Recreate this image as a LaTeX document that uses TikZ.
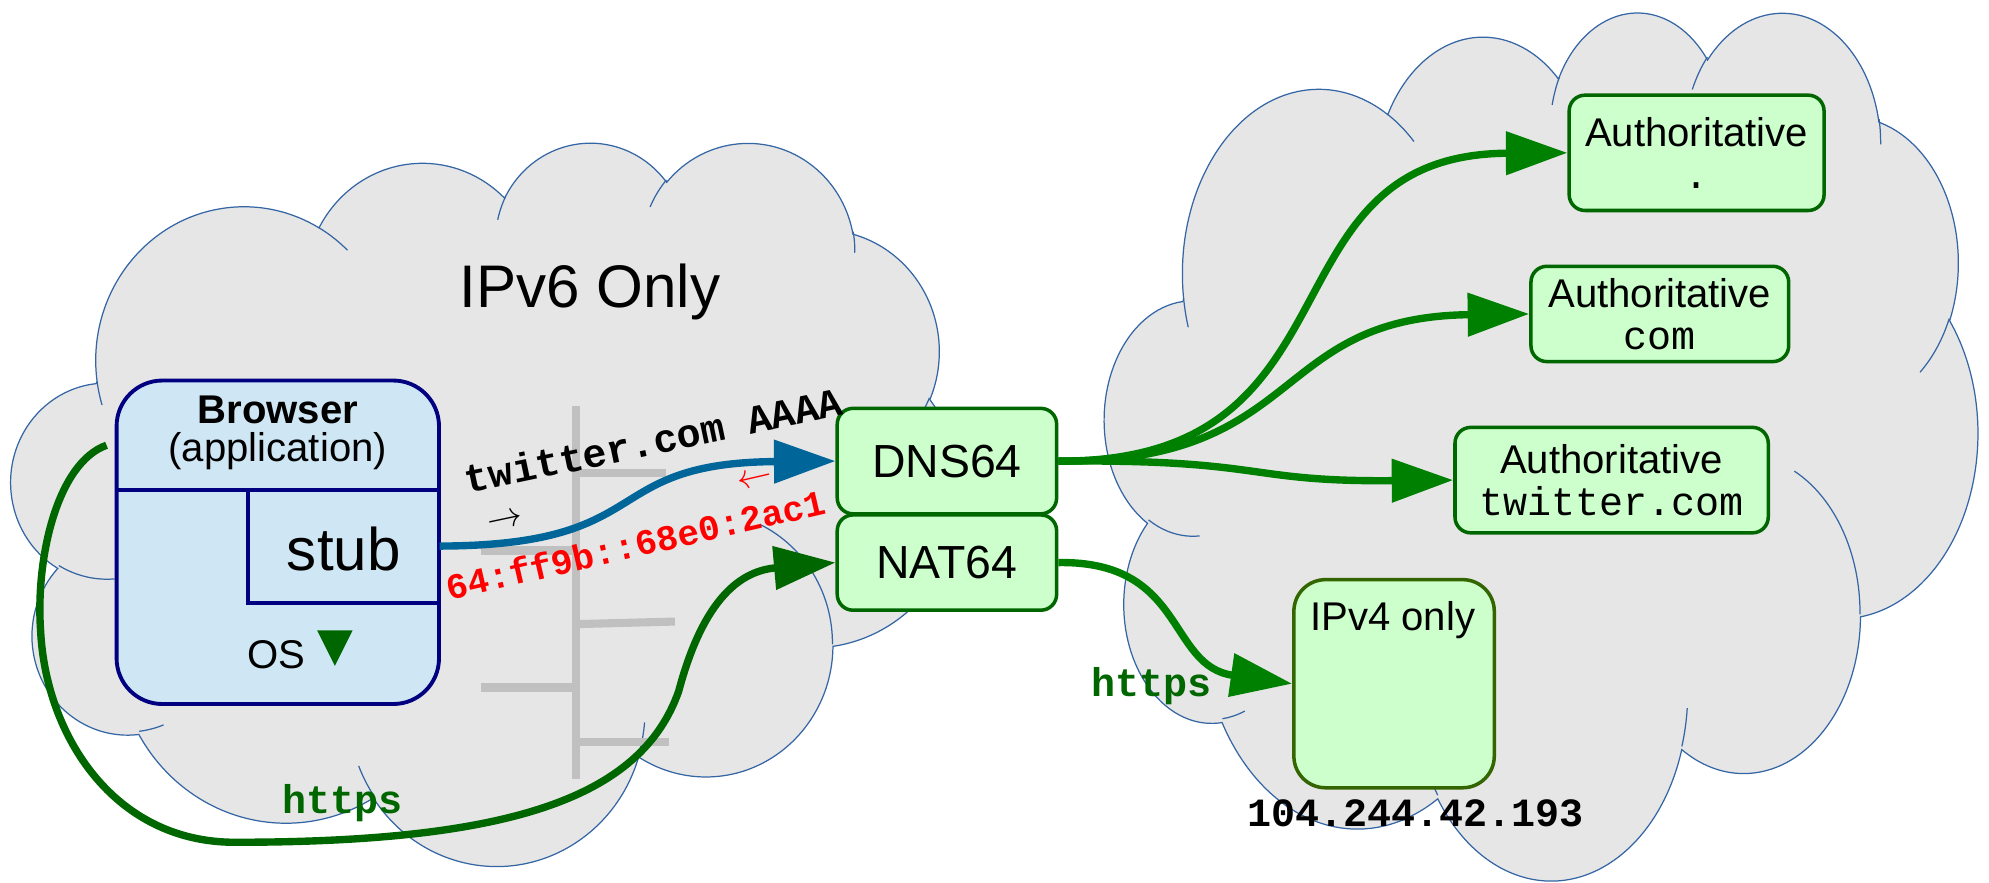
\documentclass[tikz,border=0pt]{standalone}
\usepackage{fontspec}
\setmainfont{Liberation Sans}
\setmonofont{Liberation Mono}
\usepackage{tikz}
\usetikzlibrary{arrows.meta}

\definecolor{cloudgray}{HTML}{E6E6E6}
\definecolor{cloudblue}{HTML}{3465A4}
\definecolor{busgray}{HTML}{C0C0C0}
\definecolor{appfill}{HTML}{CFE7F5}
\definecolor{appnavy}{HTML}{000080}
\definecolor{boxfill}{HTML}{CCFFCC}
\definecolor{boxgreen}{HTML}{006600}
\definecolor{v4green}{HTML}{336600}
\definecolor{flowgreen}{HTML}{008000}
\definecolor{queryblue}{HTML}{006699}

% outline of one cloud, in a 432 x 432 frame
\newcommand{\cloudpath}{(39.00,143.70)
  arc[x radius=67.53,y radius=91.90,start angle=172.25,end angle=300.37]
  arc[x radius=53.33,y radius=72.67,start angle=-152.02,end angle=-45.45]
  arc[x radius=43.65,y radius=59.45,start angle=-153.47,end angle=-37.32]
  arc[x radius=48.57,y radius=65.95,start angle=-139.69,end angle=-10.21]
  arc[x radius=53.33,y radius=72.73,start angle=-74.77,end angle=23.21]
  arc[x radius=67.75,y radius=92.20,start angle=-37.53,end angle=81.86]
  arc[x radius=57.85,y radius=78.67,start angle=0.46,end angle=121.97]
  arc[x radius=67.52,y radius=92.15,start angle=16.84,end angle=146.25]
  arc[x radius=77.20,y radius=105.43,start angle=58.98,end angle=150.20]
  arc[x radius=43.60,y radius=59.18,start angle=83.31,end angle=223.11]
  arc[x radius=43.45,y radius=59.45,start angle=120.36,end angle=264.11]
  -- cycle}
% small inner curls of the cloud
\newcommand{\cloudcurls}{(46.93,261.77) arc[x radius=43.45,y radius=59.45,start angle=85.55,end angle=120.36]
  (69.28,348.99) arc[x radius=43.60,y radius=59.18,start angle=68.23,end angle=83.31]
  (164.78,390.90) arc[x radius=67.52,y radius=92.15,start angle=146.25,end angle=158.47]
  (288.27,347.51) arc[x radius=67.52,y radius=92.15,start angle=4.74,end angle=16.84]
  (341.29,229.54) arc[x radius=57.85,y radius=78.67,start angle=-64.03,end angle=0.46]
  (417.98,153.54) arc[x radius=53.33,y radius=72.73,start angle=23.21,end angle=49.64]
  (383.24,54.26) arc[x radius=48.57,y radius=65.95,start angle=-10.21,end angle=0.82]
  (290.78,39.52) arc[x radius=48.57,y radius=65.95,start angle=-156.29,end angle=-139.69]
  (221.41,47.20) arc[x radius=43.65,y radius=59.45,start angle=-167.73,end angle=-153.47]
  (140.00,51.92) arc[x radius=67.53,y radius=91.90,start angle=-59.63,end angle=-45.73]
  (41.27,157.89) arc[x radius=67.53,y radius=91.90,start angle=163.19,end angle=172.25]}

\begin{document}
\begin{tikzpicture}[x=0.012685cm, y=-0.012685cm]
    \tikzstyle{every node}+=[inner sep=0pt]
    \tikzstyle{puffs}=[fill=cloudgray, draw=cloudblue, line width=0.35pt]
    \tikzstyle{curls}=[draw=cloudblue, line width=0.35pt]
    \tikzstyle{bus}=[draw=busgray, line width=2.3pt]
    \tikzstyle{appbox}=[draw=appnavy, fill=appfill, line width=1.1pt, rounded corners=13pt]
    \tikzstyle{appline}=[draw=appnavy, line width=1.1pt]
    \tikzstyle{gatebox}=[draw=boxgreen, fill=boxfill, line width=1pt, rounded corners=4.5pt, minimum width=62.4pt, font=\fontsize{13.2}{15}\selectfont]
    \tikzstyle{authbox}=[draw=boxgreen, fill=boxfill, line width=1pt, rounded corners=4.5pt, align=center, font=\fontsize{11.4}{11.8}\selectfont]
    \tikzstyle{v4box}=[draw=v4green, fill=boxfill, line width=1pt, rounded corners=9pt]
    \tikzstyle{sans}=[font=\fontsize{11.4}{13}\selectfont]
    \tikzstyle{mono}=[font=\ttfamily\bfseries\fontsize{11.4}{13}\selectfont]
    \tikzstyle{flow}=[line width=2.1pt, -{Triangle[length=17.5pt,width=12pt]}]

    \useasboundingbox (0,0) rectangle (1568,696);

    % IPv6 cloud
    \begin{scope}[shift={(9,111)}, xscale=1.7315, yscale=1.3194]
        \filldraw[puffs] \cloudpath;
        \draw[curls] \cloudcurls;
    \end{scope}
    % IPv4 cloud
    \begin{scope}[shift={(871,8)}, xscale=1.5926, yscale=1.5833]
        \filldraw[puffs] \cloudpath;
        \draw[curls] \cloudcurls;
    \end{scope}
    \node[font=\fontsize{17.1}{20}\selectfont] (v6name) at (465,230) {IPv6 Only};

    % local network
    \draw[bus] (454,320) -- (454,614);
    \draw[bus] (454,373) -- (525,373);
    \draw[bus] (379,434) -- (454,434);
    \draw[bus] (456,492) -- (532,490);
    \draw[bus] (379,542) -- (454,542);
    \draw[bus] (454,585) -- (527,585);

    % browser
    \node[appbox, minimum width=91.7pt, minimum height=92pt] (browser) at (219,427.5) {};
    \node[sans, font=\bfseries\fontsize{11.4}{13}\selectfont] (brname) at (219,323) {Browser};
    \node[sans] (brapp) at (219,356) {(application)};
    \draw[appline] (92,386) -- (346,386);
    \node[minimum width=54.1pt, minimum height=32.1pt] (stub) at (271,430.5) {};
    \draw[appline] (stub.north west) -- (stub.south west) -- (stub.south east);
    \node[font=\fontsize{17.1}{20}\selectfont] (stubname) at (271,433) {stub};
    \node[sans] (osname) at (218,516) {OS};
    \fill[boxgreen] (250,497) -- (278,497) -- (264,525) -- cycle;

    % gateways
    \node[gatebox, minimum height=30pt] (dns) at (746.5,363.5) {DNS64};
    \node[gatebox, minimum height=27.1pt] (nat) at (746.5,443.5) {NAT64};

    % servers
    \node[authbox, minimum width=72.5pt, minimum height=32.8pt] (aroot) at (1337.5,120.5) {Authoritative\\\texttt{.}};
    \node[authbox, minimum width=73.3pt, minimum height=27.1pt] (acom) at (1308.5,247.5) {Authoritative\\\texttt{com}};
    \node[authbox, minimum width=89.1pt, minimum height=30pt] (atw) at (1270.5,378.5) {Authoritative\\\texttt{twitter.com}};
    \node[v4box, minimum width=57pt, minimum height=59.2pt] (ipv4) at (1099,539) {};
    \node[sans] (v4name) at (1098,489) {IPv4 only};
    \node[mono] (v4addr) at (1116,641) {104.244.42.193};

    % query and answer
    \draw[flow, queryblue] (stub.east) .. controls (520,430) and (470,365) .. (dns.west);
    \node[mono, rotate=11.9] (qtext) at (515,347) {twitter.com AAAA};
    \node[rotate=12] (qdir) at (398,411) {$\rightarrow$};
    \node[mono, text=red, font=\ttfamily\bfseries\fontsize{10.2}{12}\selectfont, rotate=13] (atext) at (501,429) {64:ff9b::68e0:2ac1};
    \node[text=red, rotate=13] (adir) at (595,379) {$\leftarrow$};

    % recursion
    \draw[flow, flowgreen] (dns.east) .. controls (1080,365) and (990,122) .. (aroot.west);
    \draw[flow, flowgreen] (dns.east) .. controls (1030,365) and (1000,250) .. (acom.west);
    \draw[flow, flowgreen] (dns.east) .. controls (1000,362) and (980,380) .. (atw.west);

    % https traffic
    \coordinate (hstart) at (84,351);
    \draw[flow, boxgreen] (hstart) .. controls (45,365) and (28,440) .. (32,497)
        .. controls (36,580) and (90,664) .. (185,664)
        .. controls (400,664) and (505,630) .. (535,545)
        .. controls (555,470) and (585,450) .. (nat.west);
    \node[mono, text=boxgreen] (hlabel) at (270,633) {https};
    \draw[flow, flowgreen] (nat.east) .. controls (935,442) and (920,525) .. (ipv4.west);
    \node[mono, text=boxgreen] (v4label) at (908,541) {https};
\end{tikzpicture}
\end{document}
